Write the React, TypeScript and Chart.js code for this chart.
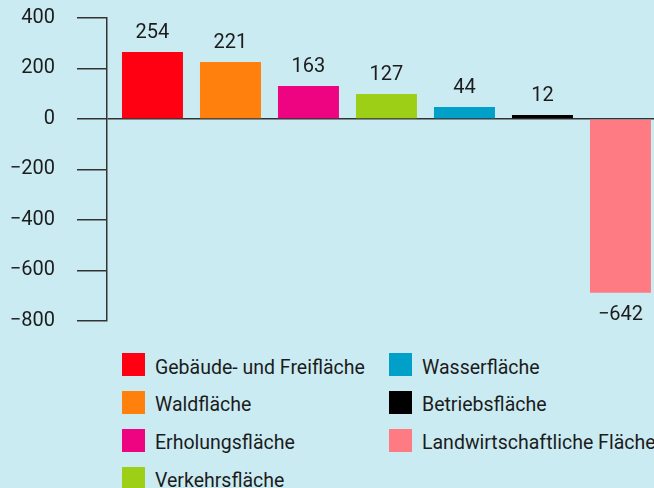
import React, { useEffect, useRef } from "react";
import { Chart, registerables } from "chart.js";

Chart.register(...registerables);

const categories = [
  "Gebäude- und Freifläche",
  "Waldfläche",
  "Erholungsfläche",
  "Verkehrsfläche",
  "Wasserfläche",
  "Betriebsfläche",
  "Landwirtschaftliche Fläche",
];
// bar heights as drawn in the picture
const barValues = [265, 226, 130, 99, 47, 15, -689];
// value labels printed on the picture
const valueLabels = ["254", "221", "163", "127", "44", "12", "−642"];
const colors = ["#ff0012", "#ff800c", "#ee0480", "#9dcf16", "#00a0c8", "#000000", "#ff7b84"];
const yTicks = { min: -800, max: 400, step: 200 };

const FONT = "Roboto, 'Liberation Sans', sans-serif";
const TEXT = "#1c1c1c";
const AXIS = "#333333";

export default function App() {
  const ref = useRef<HTMLCanvasElement | null>(null);

  useEffect(() => {
    const canvas = ref.current;
    if (!canvas) return;
    const labelPlugin = {
      id: "valueLabels",
      afterDatasetsDraw(chart: any) {
        const c = chart.ctx;
        const meta = chart.getDatasetMeta(0);
        c.save();
        c.font = `20px ${FONT}`;
        c.fillStyle = TEXT;
        c.textAlign = "center";
        c.textBaseline = "middle";
        meta.data.forEach((el: any, i: number) => {
          const v = barValues[i];
          const y = v >= 0 ? el.y - 19 : el.y + 22;
          c.fillText(valueLabels[i], el.x, y);
        });
        c.restore();
      },
    };
    const chart = new Chart(canvas, {
      type: "bar",
      data: {
        datasets: [
          {
            data: barValues.map((v, i) => ({ x: i, y: v })),
            backgroundColor: colors,
            borderWidth: 0,
            categoryPercentage: 1,
            barPercentage: 0.782,
          },
        ],
      },
      options: {
        responsive: false,
        animation: false,
        layout: { padding: { top: 18, bottom: 19.3, left: 0, right: 0 } },
        plugins: { legend: { display: false }, tooltip: { enabled: false } },
        scales: {
          x: {
            type: "linear",
            display: false,
            offset: false,
            min: -0.583,
            max: 6.43,
          },
          y: {
            min: yTicks.min,
            max: yTicks.max,
            z: 1,
            afterFit(scale: any) {
              scale.width = 107;
              scale.paddingTop = 0;
              scale.paddingBottom = 0;
            },
            ticks: {
              stepSize: yTicks.step,
              padding: 22,
              color: TEXT,
              font: { family: FONT, size: 20 },
              callback: (v: any) => String(v).replace("-", "−"),
            },
            grid: {
              drawOnChartArea: true,
              tickLength: 30,
              lineWidth: 1.5,
              tickColor: AXIS,
              color: (ctx: any) => (ctx.tick && ctx.tick.value === 0 ? AXIS : "rgba(0,0,0,0)"),
            },
            border: { display: true, color: AXIS, width: 1.5 },
          },
        },
      },
      plugins: [labelPlugin],
    } as any);
    return () => chart.destroy();
  }, []);

  const rowTop = (r: number) => 353 + r * 37.9;
  const order = [
    { idx: 0, col: 0, row: 0 },
    { idx: 1, col: 0, row: 1 },
    { idx: 2, col: 0, row: 2 },
    { idx: 3, col: 0, row: 3 },
    { idx: 4, col: 1, row: 0 },
    { idx: 5, col: 1, row: 1 },
    { idx: 6, col: 1, row: 2 },
  ];
  const colSwatch = [122, 389];

  return (
    <div
      style={{
        position: "absolute",
        left: 0,
        top: 0,
        width: 654,
        height: 488,
        background: "#cbebf3",
        overflow: "hidden",
        fontFamily: FONT,
      }}
    >
      <canvas
        ref={ref}
        width={654}
        height={340}
        style={{ position: "absolute", left: 0, top: 0, width: 654, height: 340 }}
      />
      {order.map(({ idx, col, row }) => (
        <div key={idx}>
          <div
            style={{
              position: "absolute",
              left: colSwatch[col],
              top: rowTop(row),
              width: 23,
              height: 23,
              background: colors[idx],
            }}
          />
          <div
            style={{
              position: "absolute",
              left: colSwatch[col] + 33,
              top: rowTop(row) + 2.5,
              height: 23,
              lineHeight: "23px",
              fontSize: 19.5,
              color: TEXT,
              whiteSpace: "nowrap",
            }}
          >
            {categories[idx]}
          </div>
        </div>
      ))}
    </div>
  );
}
